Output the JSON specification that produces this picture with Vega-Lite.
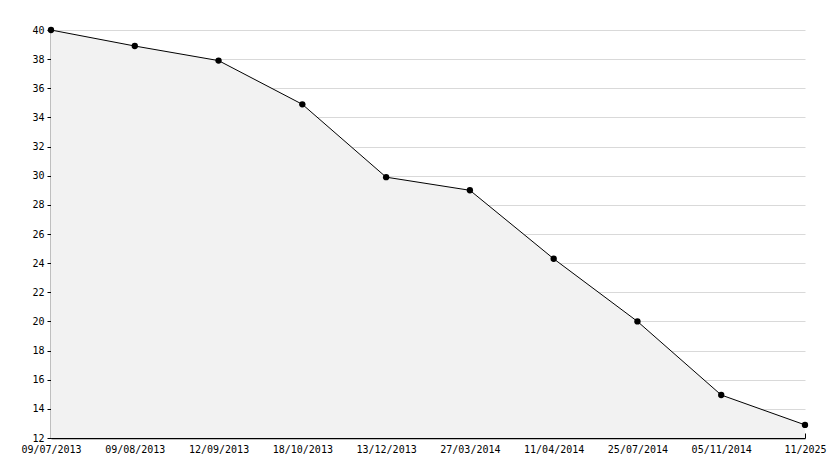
{
  "$schema": "https://vega.github.io/schema/vega-lite/v6.json",
  "width": 754,
  "height": 408,
  "autosize": {"type": "none"},
  "padding": {"left": 51, "top": 30, "right": 29, "bottom": 30},
  "background": "white",
  "config": {
    "view": {"stroke": null},
    "axis": {"labelFont": "DejaVu Sans Mono", "labelFontSize": 10, "labelColor": "#000"}
  },
  "data": {
    "values": [
      {"date": "09/07/2013", "value": 40},
      {"date": "09/08/2013", "value": 38.9},
      {"date": "12/09/2013", "value": 37.9},
      {"date": "18/10/2013", "value": 34.9},
      {"date": "13/12/2013", "value": 29.9},
      {"date": "27/03/2014", "value": 29.0},
      {"date": "11/04/2014", "value": 24.3},
      {"date": "25/07/2014", "value": 20.0},
      {"date": "05/11/2014", "value": 14.95},
      {"date": "11/2025", "value": 12.9}
    ]
  },
  "encoding": {
    "x": {
      "field": "date", "type": "ordinal", "sort": null,
      "scale": {"type": "point", "padding": 0},
      "axis": {
        "title": null, "labelAngle": 0, "domainColor": "#000", "domainWidth": 1.5,
        "tickColor": "#000", "tickSize": -5, "labelPadding": 11, "grid": false
      }
    },
    "y": {
      "field": "value", "type": "quantitative",
      "scale": {"domain": [12, 40], "nice": false, "zero": false},
      "axis": {
        "title": null,
        "values": [12,13,14,15,16,17,18,19,20,21,22,23,24,25,26,27,28,29,30,31,32,33,34,35,36,37,38,39,40],
        "labelExpr": "datum.value % 2 === 0 ? datum.label : ''",
        "domainColor": "#000", "domainWidth": 1.5,
        "tickColor": "#000",
        "tickSize": {"condition": {"test": "datum.value % 2 === 0", "value": 4}, "value": -4},
        "labelPadding": 3,
        "grid": true, "gridColor": "#d9d9d9",
        "gridOpacity": {"condition": {"test": "datum.value % 2 === 0 && datum.value > 12", "value": 1}, "value": 0}
      }
    }
  },
  "layer": [
    {"mark": {"type": "area", "color": "#f2f2f2"}, "encoding": {"y2": {"datum": 12}}},
    {"mark": {"type": "line", "color": "#000", "strokeWidth": 1}, "encoding": {}},
    {"mark": {"type": "point", "shape": "circle", "filled": true, "color": "#000", "opacity": 1, "size": 40}, "encoding": {}}
  ]
}
